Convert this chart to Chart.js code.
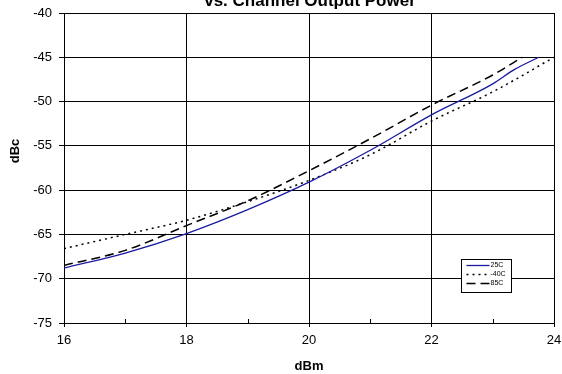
<!DOCTYPE html>
<html>
<head>
<meta charset="utf-8">
<script src="https://cdn.jsdelivr.net/npm/chart.js@4/dist/chart.umd.min.js"></script>
<style>
  html, body { margin: 0; padding: 0; background: #fff; }
  #wrap { width: 562px; height: 374px; position: relative; }
</style>
</head>
<body>
<div id="wrap"><canvas id="acprChart"></canvas></div>
<script>
// values
const titleText = "vs. Channel Output Power";
const seriesLabels = ["25C", "-40C", "85C"];

const x25 = [16, 17, 18, 19, 20, 21, 22, 23, 23.35, 23.75];
const y25 = [-68.8, -67.1, -64.9, -62.2, -59.1, -55.5, -51.5, -48.0, -46.4, -45.0];

const xCold = [16, 17, 18, 19, 20, 21, 22, 23, 24];
const yCold = [-66.6, -65.0, -63.4, -61.3, -58.9, -56.0, -52.2, -48.9, -45.0];

const xHot = [16, 17, 18, 19, 20, 21, 22, 23, 23.48];
const yHot = [-68.5, -66.8, -64.0, -61.2, -57.8, -54.2, -50.4, -47.0, -45.0];

const xTicks = [16, 18, 20, 22, 24];
const yTicks = [-75, -70, -65, -60, -55, -50, -45, -40];

const FONT = "'Liberation Sans', Arial, sans-serif";

function pts(xs, ys) {
    return xs.map(function(x, i) { return { x: x, y: ys[i] }; });
}

// title (cut at the top edge), y-axis title, minor ticks and the boxed legend
const extras = {
    id: 'extras',
    afterDraw(chart) {
        const ctx = chart.ctx;
        const area = chart.chartArea;
        const xs = chart.scales.x;
        ctx.save();

        ctx.fillStyle = '#000';
        ctx.font = 'bold 17px ' + FONT;
        ctx.textAlign = 'center';
        ctx.textBaseline = 'alphabetic';
        ctx.fillText(titleText, 310, 5.5);

        ctx.save();
        ctx.translate(15, 151);
        ctx.rotate(-Math.PI / 2);
        ctx.font = 'bold 13px ' + FONT;
        ctx.textBaseline = 'middle';
        ctx.fillText('dBc', 0, 0);
        ctx.restore();

        // minor ticks on the bottom axis
        ctx.strokeStyle = '#000';
        ctx.lineWidth = 1;
        for (let v = 17; v < 24; v += 2) {
            const px = Math.round(xs.getPixelForValue(v)) + 0.5;
            ctx.beginPath();
            ctx.moveTo(px, area.bottom);
            ctx.lineTo(px, area.bottom - 4);
            ctx.stroke();
        }

        // legend box
        const bx = 461.5, by = 259.5, bw = 50, bh = 33;
        ctx.fillStyle = '#fff';
        ctx.fillRect(bx, by, bw, bh);
        ctx.strokeStyle = '#000';
        ctx.strokeRect(bx, by, bw, bh);
        const rows = [265.5, 274.5, 283.5];
        chart.data.datasets.forEach(function(ds, i) {
            ctx.save();
            ctx.strokeStyle = ds.borderColor;
            ctx.lineWidth = ds.borderWidth;
            ctx.setLineDash(ds.borderDash || []);
            ctx.beginPath();
            ctx.moveTo(bx + 5, rows[i]);
            ctx.lineTo(bx + 28, rows[i]);
            ctx.stroke();
            ctx.restore();
            ctx.fillStyle = '#000';
            ctx.font = '7px ' + FONT;
            ctx.textAlign = 'left';
            ctx.textBaseline = 'middle';
            ctx.fillText(ds.label, bx + 29, rows[i]);
        });
        ctx.restore();
    }
};

new Chart(document.getElementById('acprChart'), {
    type: 'line',
    data: {
        datasets: [{
            label: seriesLabels[0],
            data: pts(x25, y25),
            borderColor: '#1a1aa0',
            borderWidth: 1.3,
            pointRadius: 0,
            cubicInterpolationMode: 'monotone'
        }, {
            label: seriesLabels[1],
            data: pts(xCold, yCold),
            borderColor: '#000',
            borderWidth: 1.5,
            borderDash: [2, 4],
            pointRadius: 0,
            cubicInterpolationMode: 'monotone'
        }, {
            label: seriesLabels[2],
            data: pts(xHot, yHot),
            borderColor: '#000',
            borderWidth: 1.5,
            borderDash: [9, 5],
            pointRadius: 0,
            cubicInterpolationMode: 'monotone'
        }]
    },
    options: {
        responsive: true,
        maintainAspectRatio: false,
        animation: false,
        events: [],
        layout: { padding: { top: 13, right: 8, left: 0, bottom: 0 } },
        plugins: {
            legend: { display: false },
            tooltip: { enabled: false }
        },
        scales: {
            x: {
                type: 'linear',
                min: 16,
                max: 24,
                afterBuildTicks: function(scale) {
                    scale.ticks = xTicks.map(function(v) { return { value: v }; });
                },
                ticks: {
                    color: '#000',
                    font: { family: FONT, size: 13 },
                    padding: 6,
                    maxRotation: 0
                },
                grid: { color: '#000', tickColor: '#000', tickLength: 4, lineWidth: 1 },
                border: { color: '#000', width: 1 },
                title: {
                    display: true,
                    text: 'dBm',
                    color: '#000',
                    font: { family: FONT, size: 13, weight: 'bold' },
                    padding: { top: 0, bottom: 0 }
                },
                afterFit: function(scale) {
                    scale.height = 51;
                    scale.paddingLeft = 0;
                    scale.paddingRight = 0;
                }
            },
            y: {
                type: 'linear',
                min: -75,
                max: -40,
                afterBuildTicks: function(scale) {
                    scale.ticks = yTicks.map(function(v) { return { value: v }; });
                },
                ticks: {
                    color: '#000',
                    font: { family: FONT, size: 13 },
                    padding: 7
                },
                grid: { color: '#000', tickColor: '#000', tickLength: 5, lineWidth: 1 },
                border: { color: '#000', width: 1 },
                afterFit: function(scale) {
                    scale.width = 64;
                    scale.paddingTop = 0;
                    scale.paddingBottom = 0;
                }
            }
        }
    },
    plugins: [extras]
});
</script>
</body>
</html>
